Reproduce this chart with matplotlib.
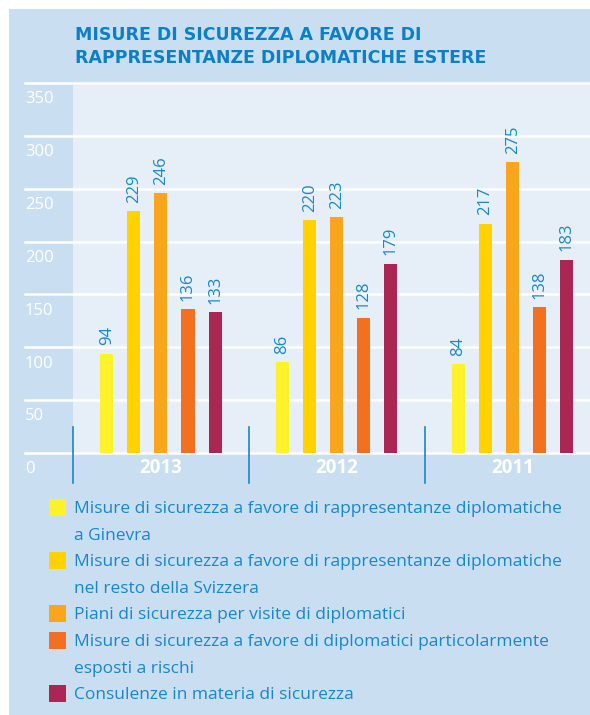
import numpy as np
import matplotlib.pyplot as plt
import matplotlib.transforms as mtransforms
from matplotlib.patches import Rectangle

plt.rcParams['font.family'] = ['Open Sans', 'DejaVu Sans']

# dati
anni = ['2013', '2012', '2011']
ginevra = [94, 86, 84]
resto_svizzera = [229, 220, 217]
visite = [246, 223, 275]
rischi = [136, 128, 138]
consulenze = [133, 179, 183]
yticks = [0, 50, 100, 150, 200, 250, 300, 350]

serie = [ginevra, resto_svizzera, visite, rischi, consulenze]
colori = ['#FFF22A', '#FFD200', '#F9A61E', '#F37021', '#AC2654']
legenda = [
    ['Misure di sicurezza a favore di rappresentanze diplomatiche', 'a Ginevra'],
    ['Misure di sicurezza a favore di rappresentanze diplomatiche', 'nel resto della Svizzera'],
    ['Piani di sicurezza per visite di diplomatici'],
    ['Misure di sicurezza a favore di diplomatici particolarmente', 'esposti a rischi'],
    ['Consulenze in materia di sicurezza'],
]

blu = '#1787CC'
sfondo = '#C9DEF1'
chiaro = '#E6EFF8'

W, H = 590, 715
fig = plt.figure(figsize=(W / 100, H / 100), dpi=100)
fig.patch.set_facecolor('white')

def fx(px):
    return px / W

def fy(py):
    return 1 - py / H

# riquadro azzurro
fig.patches.append(Rectangle((fx(9), 0), 1 - fx(9), fy(9), transform=fig.transFigure,
                             facecolor=sfondo, edgecolor='none', zorder=-5))

fig.text(fx(75), fy(35), 'MISURE DI SICUREZZA A FAVORE DI', color='#0A80C6',
         fontsize=12.5, fontweight='bold', va='center', ha='left', family='DejaVu Sans')
fig.text(fx(75), fy(58), 'RAPPRESENTANZE DIPLOMATICHE ESTERE', color='#0A80C6',
         fontsize=12.5, fontweight='bold', va='center', ha='left', family='DejaVu Sans')

ax = fig.add_axes([fx(73), fy(453), 1 - fx(73), (453 - 83) / H])
ax.set_facecolor(chiaro)
for s in ax.spines.values():
    s.set_visible(False)
ax.set_xticks([])
ax.set_yticks([])
ax.set_ylim(0, 350)
ax.set_xlim(-0.5, 2.44)

x = np.arange(len(anni))
passo = 0.154
larg = 0.074
for j, (vals, c) in enumerate(zip(serie, colori)):
    pos = x + (j - 2) * passo
    ax.bar(pos, vals, width=larg, color=c, zorder=3)
    for p, v in zip(pos, vals):
        ax.annotate(str(v), xy=(p, v), xytext=(0, 6), textcoords='offset points',
                    rotation=90, ha='center', va='bottom', color=blu, fontsize=12, zorder=4)

# griglia bianca e etichette asse y
trans = mtransforms.blended_transform_factory(ax.transAxes, ax.transData)
x0 = (25 - 73) / (W - 73)
for t in yticks:
    ax.plot([x0, 1], [t, t], transform=trans, color='white', lw=1.8, clip_on=False, zorder=2)
    ax.annotate(str(t), xy=(x0, t), xycoords=trans, xytext=(0, -6), textcoords='offset points',
                ha='left', va='top', color='white', fontsize=12)

# separatori tra gli anni e etichette
for i, a in enumerate(anni):
    ax.plot([i - 0.5, i - 0.5], [25, -28], color=blu, lw=1.2, clip_on=False, zorder=5)
    ax.text(i, -14, a, ha='center', va='center', color='white', fontsize=13.5, fontweight='bold')

# legenda
righe = [507, 560, 613, 640, 693]
for c, testo, y in zip(colori, legenda, righe):
    fig.patches.append(Rectangle((fx(49), fy(y + 8.5)), 17 / W, 17 / H, transform=fig.transFigure,
                                 facecolor=c, edgecolor='none'))
    for k, riga in enumerate(testo):
        fig.text(fx(74), fy(y + k * 26.7), riga, color=blu, fontsize=12.5, ha='left',
                 va='center_baseline')

fig.savefig('out.png', dpi=100)
